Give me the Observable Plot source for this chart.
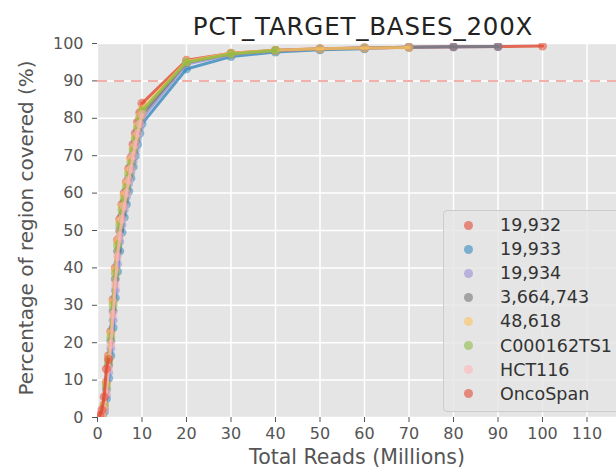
<!DOCTYPE html>
<html>
<head>
<meta charset="utf-8">
<script src="https://cdn.jsdelivr.net/npm/d3@7"></script>
<script src="https://cdn.jsdelivr.net/npm/@observablehq/plot@0.6"></script>
<style>
  body { margin: 0; background: #fff; overflow: hidden; }
  #wrap { position: relative; width: 616px; height: 468px; overflow: hidden; font-family: "DejaVu Sans", sans-serif; }
  #legend { position: absolute; left: 443px; top: 210px; width: 210px; height: 200px; border: 1px solid #cccccc; border-radius: 4px; background: rgba(229,229,229,0.8); }
  .dot { position: absolute; width: 9px; height: 9px; border-radius: 50%; }
  .lab { position: absolute; font-size: 17.5px; line-height: 20px; color: #333; white-space: nowrap; }
</style>
</head>
<body>
<div id="wrap"></div>
<script>
// ---- data ----
const title = "PCT_TARGET_BASES_200X";
const xLabel = "Total Reads (Millions)";
const yLabel = "Percentage of region covered (%)";
const names = ["19,932", "19,933", "19,934", "3,664,743", "48,618", "C000162TS1", "HCT116", "OncoSpan"];
const colors = ["#E24A33", "#348ABD", "#988ED5", "#777777", "#FBC15E", "#8EBA42", "#FFB5B8", "#E24A33"];
const reads = [0.5, 1, 1.5, 2, 2.5, 3, 3.5, 4, 4.5, 5, 5.5, 6, 6.5, 7, 7.5, 8, 8.5, 9, 9.5, 10,
               20, 30, 40, 50, 60, 70, 80, 90, 100];
const s19932      = [0, 0.8, 3.5, 9.5, 16.5, 23, 31.5, 40, 47.5, 53, 57, 60, 63, 66.5, 69.5, 73, 76, 79, 81.5, 84, 95.5, 97.4, 98.2, 98.6, 98.8, 99, 99.1, 99.2, 99.3];
const s19933      = [0, 0.3, 1.5, 5, 10.5, 16.5, 24, 32, 39, 44.5, 49.5, 53.5, 57, 60.5, 64, 67, 70, 73, 76, 78.5, 93.2, 96.5, 97.7, 98.3, 98.6];
const s19934      = [0, 0.4, 2, 6, 12, 18.5, 26, 34, 41, 47, 51.5, 55.5, 59, 62.5, 65.5, 68.5, 71.5, 74.5, 77.5, 80, 94.5, 97, 98, 98.5, 98.8, 99, 99.1, 99.2];
const s3664743    = [0, 0.5, 2.5, 7.5, 14, 20.5, 28.5, 37, 44.5, 50, 54, 57.5, 60.5, 64, 67, 70.5, 73.5, 76.5, 79, 81, 95, 97.3, 98.1, 98.5, 98.8, 99, 99.1, 99.2];
const s48618      = [0, 0.7, 3.5, 9, 16, 22.5, 31, 39.5, 47, 52.5, 56.5, 59.5, 62.5, 66, 69, 72, 75, 78, 80.5, 82.5, 95.2, 97.4, 98.2, 98.6, 98.8, 98.9];
const sC000162TS1 = [0, 0.5, 3, 8.5, 15, 21.5, 30, 38.5, 46, 51.5, 55.5, 58.5, 61.5, 65, 68, 71.5, 74.5, 77.5, 80, 82, 95, 97.2, 98.1];
const sHCT116     = [0, 0.4, 2.2, 6.5, 13, 19.5, 27.5, 35.5, 43, 48.5, 53, 56.5, 60, 63.5, 66.5, 70, 73, 76, 78.5, 81];
const sOncoSpan   = [0.5, 2, 5.5, 13, 15.5];
const seriesValues = [s19932, s19933, s19934, s3664743, s48618, sC000162TS1, sHCT116, sOncoSpan];
const xTicks = [0, 10, 20, 30, 40, 50, 60, 70, 80, 90, 100, 110];
const yTicks = [0, 10, 20, 30, 40, 50, 60, 70, 80, 90, 100];
const threshold = 90;

// ---- build ----
const seriesMarks = [];
names.forEach((name, k) => {
  const rows = seriesValues[k].map((y, i) => ({name, x: reads[i], y}));
  seriesMarks.push(Plot.line(rows, {x: "x", y: "y", stroke: colors[k], strokeWidth: 3, strokeOpacity: 0.8, clip: true}));
  seriesMarks.push(Plot.dot(rows, {x: "x", y: "y", fill: colors[k], fillOpacity: 0.55, r: 4.5, clip: true}));
});

const chart = Plot.plot({
  width: 631,
  height: 468,
  marginLeft: 97,
  marginRight: 0,
  marginTop: 43,
  marginBottom: 51,
  style: {fontFamily: "DejaVu Sans, sans-serif", fontSize: "16px", color: "#555", background: "white", maxWidth: "none", overflow: "visible"},
  x: {domain: [0, 120], label: null},
  y: {domain: [0, 100], label: null},
  marks: [
    Plot.frame({fill: "#E5E5E5", stroke: null}),
    Plot.gridX(xTicks, {stroke: "white", strokeOpacity: 1, strokeWidth: 1.5}),
    Plot.gridY(yTicks, {stroke: "white", strokeOpacity: 1, strokeWidth: 1.5}),
    Plot.ruleY([threshold], {stroke: "#F2B0AA", strokeWidth: 2, strokeDasharray: "10,7"}),
    ...seriesMarks,
    Plot.axisX(xTicks, {tickSize: 5, tickPadding: 5, fontSize: 16, label: null, stroke: "#555"}),
    Plot.axisY(yTicks, {tickSize: 5, tickPadding: 9, fontSize: 16, label: null, stroke: "#555"})
  ]
});

const wrap = document.getElementById("wrap");
wrap.appendChild(chart);

const svg = d3.select(chart);
svg.append("text")
  .attr("x", 363).attr("y", 35)
  .attr("text-anchor", "middle")
  .attr("font-size", "24.5px")
  .attr("letter-spacing", "0.8px")
  .attr("fill", "#222")
  .text(title);
svg.append("text")
  .attr("x", 357).attr("y", 464)
  .attr("text-anchor", "middle")
  .attr("font-size", "20.5px")
  .attr("fill", "#555")
  .text(xLabel);
svg.append("text")
  .attr("transform", "translate(33,228) rotate(-90)")
  .attr("text-anchor", "middle")
  .attr("font-size", "20px")
  .attr("fill", "#555")
  .text(yLabel);

// legend
const legend = document.createElement("div");
legend.id = "legend";
names.forEach((name, k) => {
  const cy = 14 + 24.1 * k;
  const d = document.createElement("div");
  d.className = "dot";
  d.style.left = (467 - 443 - 4.5) + "px";
  d.style.top = (cy - 4.5) + "px";
  d.style.background = colors[k];
  d.style.opacity = 0.6;
  legend.appendChild(d);
  const t = document.createElement("div");
  t.className = "lab";
  t.style.left = (499 - 443) + "px";
  t.style.top = (cy - 10) + "px";
  t.textContent = name;
  legend.appendChild(t);
});
wrap.appendChild(legend);
</script>
</body>
</html>
